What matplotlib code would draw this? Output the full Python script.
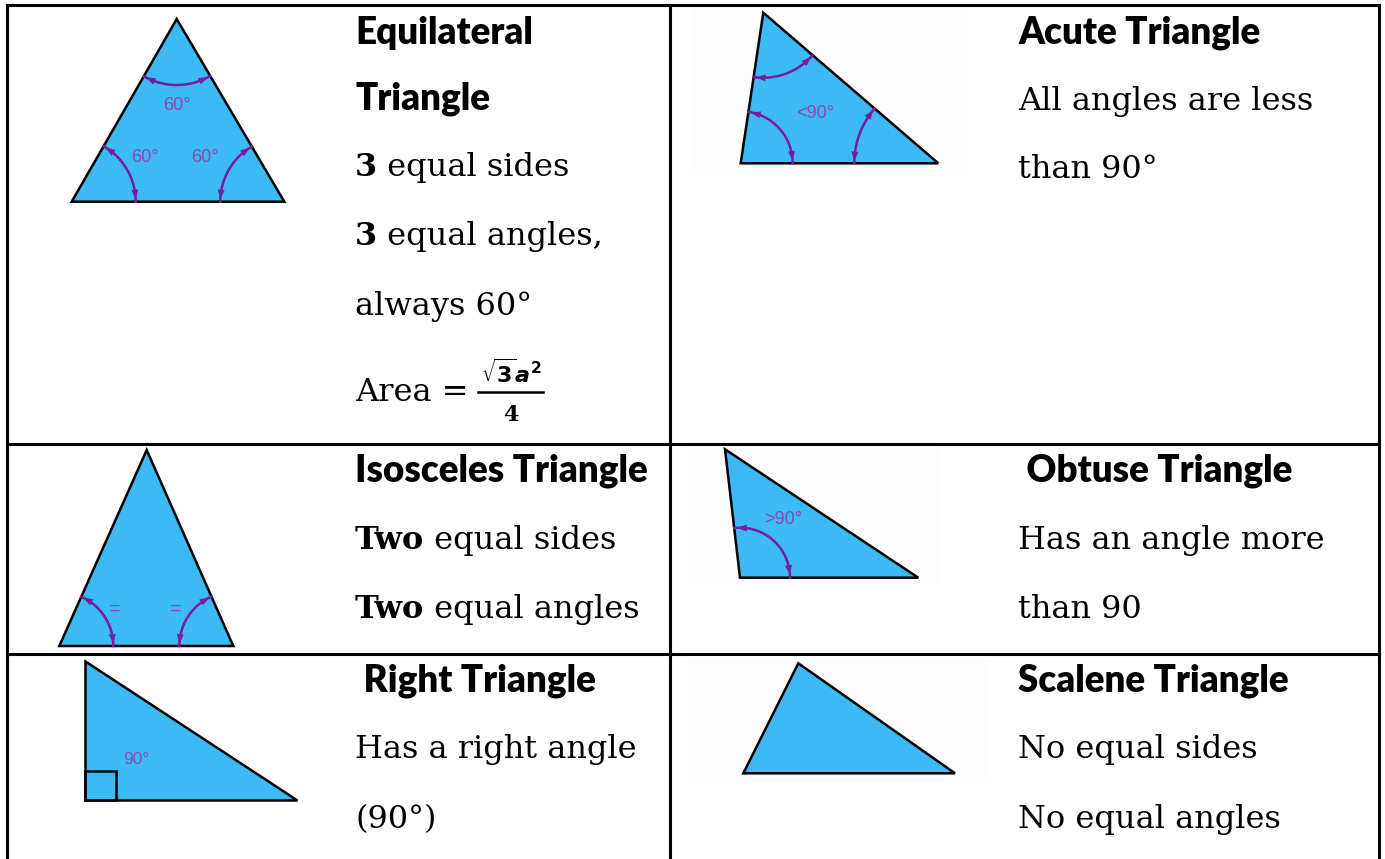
import numpy as np
import matplotlib
matplotlib.use('Agg')
import matplotlib.pyplot as plt
from matplotlib.patches import Polygon, Rectangle

# ---------------------------------------------------------------- content
left_texts = [
    # (text, x, baseline y)
    ('Equilateral', 355, 44),
    ('Triangle', 355, 110),
    ('Isosceles Triangle', 355, 482),
    (' Right Triangle', 355, 692),
    ('Acute Triangle', 1018, 44),
    (' Obtuse Triangle', 1018, 482),
    ('Scalene Triangle', 1018, 692),
]

body_lines = [
    # (bold part, normal part, x, baseline y)
    ('3', ' equal sides', 355, 176),
    ('3', ' equal angles,', 355, 245),
    ('', 'always 60°', 355, 315),
    ('', 'All angles are less', 1018, 110),
    ('', 'than 90°', 1018, 178),
    ('Two', ' equal sides', 355, 549),
    ('Two', ' equal angles', 355, 618),
    ('', 'Has an angle more', 1018, 549),
    ('', 'than 90', 1018, 618),
    ('', 'Has a right angle', 355, 758),
    ('', '(90°)', 355, 828),
    ('', 'No equal sides', 1018, 758),
    ('', 'No equal angles', 1018, 828),
]

# triangle vertices in picture pixels
equilateral = [(176.7, 19), (71.7, 201.7), (284.3, 201.7)]
acute = [(763.3, 12.7), (740.7, 163.3), (938.3, 163.3)]
isosceles = [(146.7, 450), (59.3, 646), (233.3, 646)]
right_tri = [(85, 661), (85, 800), (296.7, 800)]
obtuse = [(725, 449.3), (740, 577.7), (918.3, 577.7)]
scalene = [(798.3, 663.3), (743.3, 773.3), (955, 773.3)]

# angle marks: (triangle, vertex index, radius, label, label x, label y)
angle_marks = [
    (equilateral, 0, 66, '60°', 176.7, 105),
    (equilateral, 1, 64, '60°', 145, 158),
    (equilateral, 2, 64, '60°', 205, 158),
    (acute, 0, 65, '', 0, 0),
    (acute, 1, 52, '<90°', 815, 113),
    (acute, 2, 84, '', 0, 0),
    (isosceles, 1, 54, '=', 114.3, 609),
    (isosceles, 2, 54, '=', 176, 609),
    (obtuse, 1, 50, '>90°', 783, 519),
]

TRI_BLUE = '#3cbaf3'
ARC_PURPLE = '#7a1c9e'
LABEL_PURPLE = '#8a4cb4'
HEAD_FONT = ['Lato', 'DejaVu Sans']
BODY_FONT = ['DejaVu Serif']

fig = plt.figure(figsize=(13.85, 8.59), dpi=100)
ax = fig.add_axes([0, 0, 1, 1])
ax.set_xlim(0, 1385)
ax.set_ylim(859, 0)
ax.axis('off')

# faint picture backgrounds on the right column
for (x0, y0, w, h) in [(690, 8, 278, 162), (688, 445, 252, 140), (688, 658, 302, 124)]:
    ax.add_patch(Rectangle((x0, y0), w, h, facecolor='#fdfdfd', edgecolor='none', zorder=0))

# table grid
lw = 2.2
ax.plot([7, 1379], [5, 5], color='black', lw=lw)
for y in [444, 654]:
    ax.plot([7, 1379], [y, y], color='black', lw=lw)
for x in [7, 670, 1379]:
    ax.plot([x, x], [5, 859], color='black', lw=lw)

# triangles
for tri in [equilateral, acute, isosceles, right_tri, obtuse, scalene]:
    ax.add_patch(Polygon(tri, closed=True, facecolor=TRI_BLUE, edgecolor='black',
                         lw=1.8, joinstyle='miter', zorder=2))

# right angle box
ax.add_patch(Rectangle((85, 770.7), 30.7, 29.3, facecolor='none', edgecolor='black',
                       lw=1.8, zorder=3))
ax.text(136.7, 760, '90°', color=LABEL_PURPLE, fontsize=12.5, ha='center', va='center',
        family='Liberation Sans', zorder=4)


def angle_arc(tri, i, r):
    vx, vy = tri[i]
    p1 = tri[(i + 1) % 3]
    p2 = tri[(i + 2) % 3]
    a1 = np.arctan2(p1[1] - vy, p1[0] - vx)
    a2 = np.arctan2(p2[1] - vy, p2[0] - vx)
    d = (a2 - a1 + np.pi) % (2 * np.pi) - np.pi
    t = np.linspace(a1, a1 + d, 60)
    xs = vx + r * np.cos(t)
    ys = vy + r * np.sin(t)
    ax.plot(xs, ys, color=ARC_PURPLE, lw=1.8, zorder=3)
    for a, b in [(8, 2), (-9, -3)]:
        ax.annotate('', xy=(xs[b], ys[b]), xytext=(xs[a], ys[a]),
                    arrowprops=dict(arrowstyle='-|>,head_length=0.7,head_width=0.25',
                                    color=ARC_PURPLE, lw=0, shrinkA=0, shrinkB=0),
                    zorder=4)


for tri, i, r, lab, lx, ly in angle_marks:
    angle_arc(tri, i, r)
    if lab:
        ax.text(lx, ly, lab, color=LABEL_PURPLE, fontsize=13 if lab != '=' else 14,
                ha='center', va='center', family='Liberation Sans', zorder=4)

# headings
for txt, x, y in left_texts:
    ax.text(x, y, txt, fontsize=26.5, fontweight='heavy', family=HEAD_FONT,
            ha='left', va='baseline')

# body text
fig.canvas.draw()
renderer = fig.canvas.get_renderer()
inv = ax.transData.inverted()
for bold, normal, x, y in body_lines:
    cx = x
    if bold:
        t = ax.text(cx, y, bold, fontsize=23, fontweight='bold', family=BODY_FONT,
                    ha='left', va='baseline')
        bb = t.get_window_extent(renderer)
        cx = inv.transform((bb.x1, bb.y0))[0]
    ax.text(cx, y, normal, fontsize=23, family=BODY_FONT, ha='left', va='baseline')

# area formula
ax.text(355, 401, 'Area =', fontsize=23, family=BODY_FONT, ha='left', va='baseline')
ax.plot([478, 543], [391.5, 391.5], color='black', lw=1.8)
ax.text(511, 383, r'$\sqrt{\mathbf{3}}\boldsymbol{a}^{\mathbf{2}}$', fontsize=16,
        ha='center', va='baseline')
ax.text(511, 421, '4', fontsize=16, fontweight='bold', family=BODY_FONT,
        ha='center', va='baseline')

fig.savefig('out.png', dpi=100)
